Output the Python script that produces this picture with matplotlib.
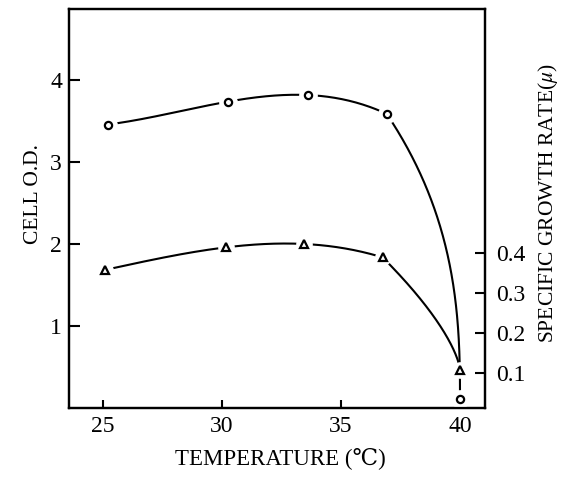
import numpy as np
import matplotlib
matplotlib.use("Agg")
import matplotlib.pyplot as plt

# ---- data ----
temp_od = [25.2, 30.26, 33.6, 36.92, 40.0]
cell_od = [3.46, 3.74, 3.82, 3.59, 0.11]
temp_mu = [25.1, 30.15, 33.46, 36.75, 40.0]
growth_mu = [0.358, 0.414, 0.4225, 0.389, 0.1075]
x_ticks = [25, 30, 35, 40]
od_ticks = [1, 2, 3, 4]
mu_ticks = [0.1, 0.2, 0.3, 0.4]
mu_tick_labels = ["0.1", "0.2", "0.3", "0.4"]

# ---- style ----
FONT = ["Liberation Serif", "DejaVu Serif", "Noto Sans CJK JP"]
plt.rcParams["font.family"] = FONT
plt.rcParams["mathtext.fontset"] = "stix"
LW = 1.5


def smooth(x, y, power):
    """hand-drawn style fit: cubic through the plateau, power-law drop to the last point"""
    x = np.asarray(x, float)
    y = np.asarray(y, float)
    c = np.polyfit(x[:4], y[:4], 3)
    xa = np.linspace(x[0], x[3], 200)
    ya = np.polyval(c, xa)
    yb = np.linspace(y[3], y[4], 300)
    u = (yb - y[4]) / (y[3] - y[4])
    xb = x[4] - (x[4] - x[3]) * u ** power
    return np.r_[xa, xb], np.r_[ya, yb]


fig = plt.figure(figsize=(5.63, 4.80), dpi=100)
ax = fig.add_axes([69 / 563, 1 - 408 / 480, (485 - 69) / 563, (408 - 9) / 480])
ax2 = ax.twinx()

ax.set_xlim(23.57, 41.05)
ax.set_ylim(0.0, 4.87)
ax2.set_ylim(0.0125, 1.01)

# curves
cx, cy = smooth(temp_od, cell_od, 2.6)
ax.plot(cx, cy, color="black", lw=LW, zorder=2, solid_capstyle="butt")
mx, my = smooth(temp_mu, growth_mu, 1.45)
ax2.plot(mx, my, color="black", lw=LW, zorder=2, solid_capstyle="butt")

# white halos (gaps around markers) and markers
ax.plot(temp_od, cell_od, ls="none", marker="o", ms=13.5, mfc="white", mec="white", mew=0, zorder=3)
ax.plot(temp_od, cell_od, ls="none", marker="o", ms=5.2, mfc="white", mec="black", mew=1.6, zorder=4)
ax2.plot(temp_mu, growth_mu, ls="none", marker="o", ms=12, mfc="white", mec="white", mew=0, zorder=3)
ax2.plot(temp_mu, growth_mu, ls="none", marker="^", ms=6.2, mfc="white", mec="black", mew=1.6, zorder=4)

# spines
for a in (ax, ax2):
    for s in a.spines.values():
        s.set_linewidth(1.6)

# ticks
ax.set_xticks(x_ticks)
ax.set_xticklabels([str(t) for t in x_ticks])
ax.set_yticks(od_ticks)
ax.set_yticklabels([str(t) for t in od_ticks])
ax2.set_yticks(mu_ticks)
ax2.set_yticklabels(mu_tick_labels)

ax.tick_params(axis="x", direction="in", length=6, width=1.5, pad=6, labelsize=17)
ax.tick_params(axis="y", direction="in", length=8, width=1.5, pad=5, labelsize=17, right=False)
ax2.tick_params(axis="y", direction="in", length=7, width=1.5, pad=8, labelsize=17)

# axis labels
ax.set_xlabel("TEMPERATURE (℃)", fontsize=16.5, ha="center", va="center")
ax.xaxis.set_label_coords((280 - 69) / 416, -(458 - 408) / 399)
ax.set_ylabel("CELL O.D.", fontsize=15.5, ha="center", va="center", rotation=90)
ax.yaxis.set_label_coords((34 - 69) / 416, (408 - 194) / 399)
ax2.set_ylabel("SPECIFIC GROWTH RATE($\\mu$)", fontsize=15.5, ha="center", va="center", rotation=90)
ax2.yaxis.set_label_coords((548 - 69) / 416, (408 - 203) / 399)

fig.savefig("out.png", dpi=100)
